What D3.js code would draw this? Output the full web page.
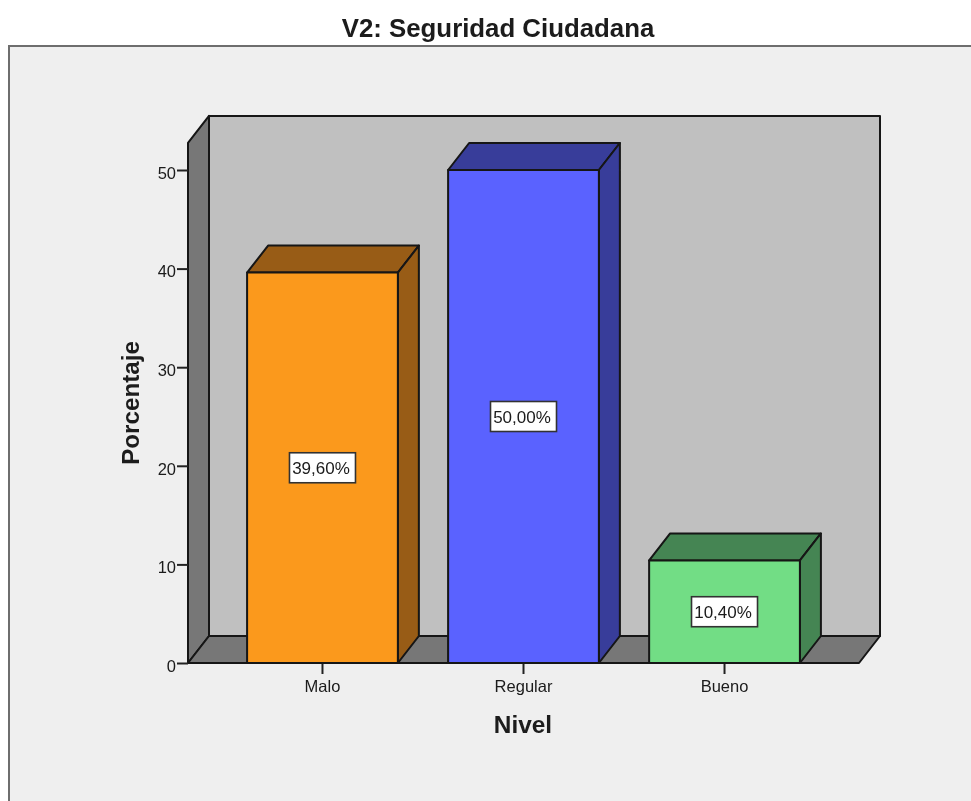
<!DOCTYPE html>
<html>
<head>
<meta charset="utf-8">
<script src="https://cdnjs.cloudflare.com/ajax/libs/d3/7.8.5/d3.min.js"></script>
<style>
  html, body { margin: 0; padding: 0; background: #fff; }
  svg { display: block; }
  text { font-family: "Liberation Sans", Arial, sans-serif; fill: #1a1a1a; }
</style>
</head>
<body>
<div id="chart"></div>
<script>
const categories = ['Malo', 'Regular', 'Bueno']
const values = [39.6, 50, 10.4]
const valueLabels = ['39,60%', '50,00%', '10,40%']
const frontColors = ['#fb991e', '#5a62ff', '#72dd85']
const sideColors = ['#985c12', '#383c9a', '#458553']
const yTicks = [0, 10, 20, 30, 40, 50]

const width = 971
const height = 801
const depthX = 21
const depthY = -27
const lineColor = '#141414'

const svg = d3.select('#chart').append('svg')
  .attr('width', width)
  .attr('height', height)

const defs = svg.append('defs')
defs.append('filter').attr('id', 'soft')
  .append('feGaussianBlur').attr('stdDeviation', 0.6)

const root = svg.append('g').attr('filter', 'url(#soft)')

// outer panel, cropped on the right and at the bottom
root.append('rect')
  .attr('x', 9).attr('y', 46)
  .attr('width', width + 20).attr('height', height)
  .attr('fill', '#efefef')
  .attr('stroke', '#6e6e6e')
  .attr('stroke-width', 2)

const x = d3.scaleBand()
  .domain(categories)
  .range([188, 859])
  .paddingInner(0.25)
  .paddingOuter(0.294)

const y = d3.scaleLinear()
  .domain([0, 50])
  .range([663, 170])

const plotLeft = x.range()[0]
const plotRight = x.range()[1]
const plotBottom = y(0)
const plotTop = y(52.75)

const poly = (pts, fill) => root.append('polygon')
  .attr('points', pts.map(p => p.join(',')).join(' '))
  .attr('fill', fill)
  .attr('stroke', lineColor)
  .attr('stroke-width', 2)
  .attr('stroke-linejoin', 'round')

// back wall, left wall, floor
poly([[plotLeft + depthX, plotTop + depthY], [plotRight + depthX, plotTop + depthY],
  [plotRight + depthX, plotBottom + depthY], [plotLeft + depthX, plotBottom + depthY]], '#c0c0c0')
poly([[plotLeft, plotTop], [plotLeft + depthX, plotTop + depthY],
  [plotLeft + depthX, plotBottom + depthY], [plotLeft, plotBottom]], '#777777')
poly([[plotLeft, plotBottom], [plotLeft + depthX, plotBottom + depthY],
  [plotRight + depthX, plotBottom + depthY], [plotRight, plotBottom]], '#777777')

// axes
const yAxis = d3.axisLeft(y).tickValues(yTicks).tickSize(11).tickPadding(1)
const xAxis = d3.axisBottom(x).tickSize(11).tickPadding(6)

const gy = root.append('g').attr('transform', `translate(${plotLeft},0)`).call(yAxis)
const gx = root.append('g').attr('transform', `translate(0,${plotBottom})`).call(xAxis)

gy.select('.domain').remove()
gx.select('.domain').remove()
root.selectAll('.tick line').attr('stroke', '#222').attr('stroke-width', 2)
root.selectAll('.tick text')
  .attr('font-family', '"Liberation Sans", Arial, sans-serif')
  .attr('font-size', 16.5)
  .attr('fill', '#2a2a2a')
gy.selectAll('.tick text').attr('dy', '0.5em')

// bars
categories.forEach((c, i) => {
  const x0 = x(c)
  const x1 = x0 + x.bandwidth()
  const yTop = y(values[i])
  poly([[x0, yTop], [x0 + depthX, yTop + depthY], [x1 + depthX, yTop + depthY], [x1, yTop]], sideColors[i])
  poly([[x1, yTop], [x1 + depthX, yTop + depthY], [x1 + depthX, plotBottom + depthY], [x1, plotBottom]], sideColors[i])
  poly([[x0, yTop], [x1, yTop], [x1, plotBottom], [x0, plotBottom]], frontColors[i])
})

// front edge of the floor runs over the bar bases
root.append('line')
  .attr('x1', plotLeft).attr('x2', plotRight)
  .attr('y1', plotBottom).attr('y2', plotBottom)
  .attr('stroke', lineColor)
  .attr('stroke-width', 2)

// value labels
categories.forEach((c, i) => {
  const cx = x(c) + x.bandwidth() / 2
  const cy = y(values[i] / 2)
  root.append('rect')
    .attr('x', cx - 33).attr('y', cy - 15)
    .attr('width', 66).attr('height', 30)
    .attr('fill', '#fff')
    .attr('stroke', '#333')
    .attr('stroke-width', 1.6)
  root.append('text')
    .attr('x', cx - 1.5).attr('y', cy + 6.5)
    .attr('text-anchor', 'middle')
    .attr('font-size', 17)
    .text(valueLabels[i])
})

// titles
root.append('text')
  .attr('x', 498).attr('y', 37)
  .attr('text-anchor', 'middle')
  .attr('font-size', 25.8)
  .attr('font-weight', 'bold')
  .text('V2: Seguridad Ciudadana')

root.append('text')
  .attr('x', 523).attr('y', 733)
  .attr('text-anchor', 'middle')
  .attr('font-size', 24.4)
  .attr('font-weight', 'bold')
  .text('Nivel')

root.append('text')
  .attr('transform', 'translate(139,403) rotate(-90)')
  .attr('text-anchor', 'middle')
  .attr('font-size', 24.2)
  .attr('font-weight', 'bold')
  .text('Porcentaje')
</script>
</body>
</html>
